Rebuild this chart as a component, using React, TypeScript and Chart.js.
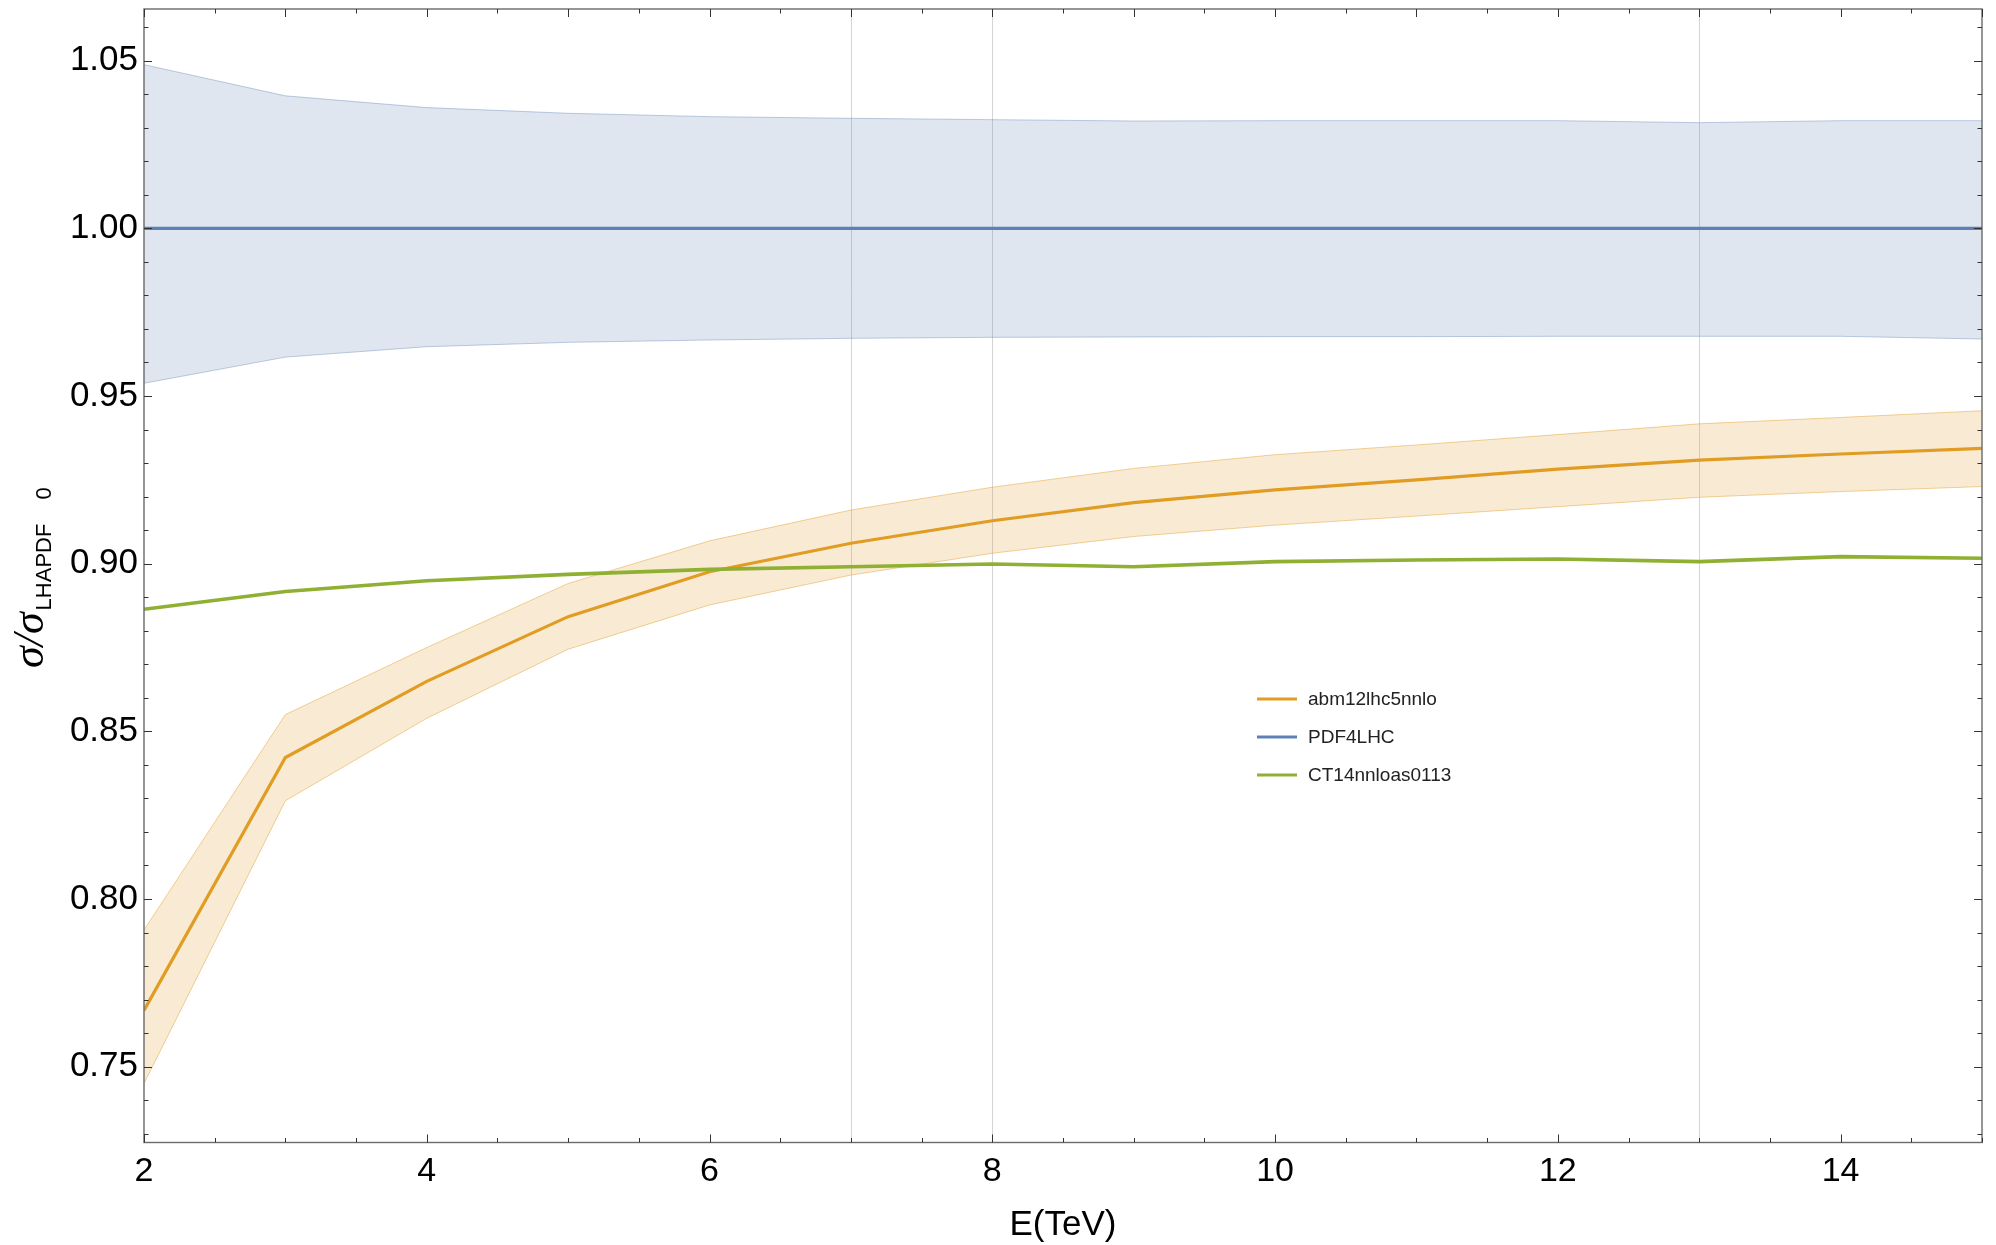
import React, { useEffect, useRef } from "react";
import { Chart, registerables } from "chart.js";

Chart.register(...registerables);

// ---------------- data ----------------
const energies = [2, 3, 4, 5, 6, 7, 8, 9, 10, 11, 12, 13, 14, 15];

const pdfCentral = [1.0, 1.0, 1.0, 1.0, 1.0, 1.0, 1.0, 1.0, 1.0, 1.0, 1.0, 1.0, 1.0, 1.0];
const pdfUpper = [1.0488, 1.0395, 1.036, 1.0343, 1.0333, 1.0328, 1.0324, 1.032, 1.0321, 1.0321, 1.0321, 1.0315, 1.0321, 1.0321];
const pdfLower = [0.9538, 0.9616, 0.9647, 0.966, 0.9667, 0.9672, 0.9675, 0.9676, 0.9677, 0.9677, 0.9678, 0.9678, 0.9678, 0.967];

const abmCentral = [0.7668, 0.8422, 0.8649, 0.8842, 0.8976, 0.9061, 0.9128, 0.9182, 0.922, 0.925, 0.9282, 0.9309, 0.9327, 0.9344];
const abmUpper = [0.7908, 0.855, 0.875, 0.8941, 0.9068, 0.916, 0.9228, 0.9284, 0.9325, 0.9354, 0.9385, 0.9417, 0.9436, 0.9456];
const abmLower = [0.745, 0.8293, 0.8539, 0.8745, 0.8877, 0.8966, 0.9031, 0.9081, 0.9115, 0.9142, 0.917, 0.9198, 0.9215, 0.923];

const ct14Central = [0.8864, 0.8917, 0.8949, 0.8968, 0.8983, 0.8991, 0.8999, 0.8991, 0.9006, 0.9011, 0.9014, 0.9006, 0.9021, 0.9016];

const seriesNames = ["abm12lhc5nnlo", "PDF4LHC", "CT14nnloas0113"];
const yTickValues = [0.75, 0.8, 0.85, 0.9, 0.95, 1.0, 1.05];
const xTickValues = [2, 4, 6, 8, 10, 12, 14];
const gridEnergies = [7, 8, 13];

const xMin = 2;
const xMax = 15;
const yMin = 0.7274;
const yMax = 1.0654;

// ---------------- styles ----------------
const ORANGE = "#e19c24";
const BLUE = "#5e81b5";
const GREEN = "#8fb032";
const FONT = "'Liberation Sans', Arial, Helvetica, sans-serif";

const pts = (arr: number[]) => energies.map((e, i) => ({ x: e, y: arr[i] }));

const zeroPadding = (scale: any) => {
  scale.paddingTop = 0;
  scale.paddingBottom = 0;
  scale.paddingLeft = 0;
  scale.paddingRight = 0;
};

const framePlugin = {
  id: "mmaFrame",
  beforeDatasetsDraw(chart: any) {
    const { ctx, chartArea } = chart;
    const xs = chart.scales.x;
    ctx.save();
    ctx.strokeStyle = "rgba(0,0,0,0.17)";
    ctx.lineWidth = 1;
    gridEnergies.forEach((g) => {
      const px = Math.round(xs.getPixelForValue(g)) + 0.5;
      ctx.beginPath();
      ctx.moveTo(px, chartArea.top);
      ctx.lineTo(px, chartArea.bottom);
      ctx.stroke();
    });
    ctx.restore();
  },
  afterDatasetsDraw(chart: any) {
    const { ctx, chartArea } = chart;
    const xs = chart.scales.x;
    const ys = chart.scales.y;
    const { left, right, top, bottom } = chartArea;
    ctx.save();
    // frame
    ctx.strokeStyle = "#6a6a6a";
    ctx.lineWidth = 1.4;
    ctx.strokeRect(left, top, right - left, bottom - top);
    // ticks
    ctx.strokeStyle = "#333";
    ctx.lineWidth = 1;
    const MAJ = 8;
    const MIN = 4.5;
    for (let k = 73; k <= 106; k++) {
      const v = k / 100;
      const py = Math.round(ys.getPixelForValue(v)) + 0.5;
      const len = k % 5 === 0 ? MAJ : MIN;
      ctx.beginPath();
      ctx.moveTo(left, py);
      ctx.lineTo(left + len, py);
      ctx.moveTo(right, py);
      ctx.lineTo(right - len, py);
      ctx.stroke();
    }
    for (let k = 4; k <= 30; k++) {
      const v = k / 2;
      const px = Math.round(xs.getPixelForValue(v)) + 0.5;
      const lenB = v % 2 === 0 ? MAJ : MIN;
      const lenT = Number.isInteger(v) ? MAJ : MIN;
      ctx.beginPath();
      ctx.moveTo(px, bottom);
      ctx.lineTo(px, bottom - lenB);
      ctx.moveTo(px, top);
      ctx.lineTo(px, top + lenT);
      ctx.stroke();
    }
    ctx.restore();
  },
  afterDraw(chart: any) {
    const { ctx, chartArea } = chart;
    ctx.save();
    ctx.fillStyle = "#000";
    // x title
    ctx.font = `35px ${FONT}`;
    ctx.textAlign = "center";
    ctx.textBaseline = "middle";
    ctx.fillText("E(TeV)", (chartArea.left + chartArea.right) / 2, 1225);

    // y title (rotated)
    ctx.translate(43, 668);
    ctx.rotate(-Math.PI / 2);
    ctx.textAlign = "left";
    ctx.textBaseline = "alphabetic";
    ctx.font = `italic 44px 'Liberation Serif', 'Times New Roman', serif`;
    const main = "σ/σ";
    ctx.fillText(main, 0, 0);
    const w = ctx.measureText(main).width;
    ctx.font = `22px ${FONT}`;
    const sub = "LHAPDF";
    ctx.fillText(sub, w + 2, 8);
    const ws = ctx.measureText(sub).width;
    ctx.fillText("0", w + 2 + ws + 24, 8);
    ctx.restore();

    // legend
    ctx.save();
    const colors = [ORANGE, BLUE, GREEN];
    ctx.font = `19px ${FONT}`;
    ctx.textBaseline = "middle";
    ctx.textAlign = "left";
    seriesNames.forEach((name, i) => {
      const y = 699 + i * 38;
      ctx.strokeStyle = colors[i];
      ctx.lineWidth = 3;
      ctx.beginPath();
      ctx.moveTo(1257, y);
      ctx.lineTo(1297, y);
      ctx.stroke();
      ctx.fillStyle = "#222";
      ctx.fillText(name, 1308, y + 1);
    });
    ctx.restore();
  },
};

export default function App() {
  const canvasRef = useRef<HTMLCanvasElement | null>(null);

  useEffect(() => {
    if (!canvasRef.current) return;
    const chart = new Chart(canvasRef.current, {
      type: "line",
      data: {
        datasets: [
          {
            label: "PDF4LHC lower",
            data: pts(pdfLower),
            borderColor: "rgba(94,129,181,0.4)",
            borderWidth: 1,
            pointRadius: 0,
            fill: false,
            order: 6,
          },
          {
            label: "PDF4LHC upper",
            data: pts(pdfUpper),
            borderColor: "rgba(94,129,181,0.4)",
            borderWidth: 1,
            backgroundColor: "rgba(94,129,181,0.2)",
            pointRadius: 0,
            fill: "-1",
            order: 5,
          },
          {
            label: "abm lower",
            data: pts(abmLower),
            borderColor: "rgba(225,156,36,0.45)",
            borderWidth: 1,
            pointRadius: 0,
            fill: false,
            order: 4,
          },
          {
            label: "abm upper",
            data: pts(abmUpper),
            borderColor: "rgba(225,156,36,0.45)",
            borderWidth: 1,
            backgroundColor: "rgba(225,156,36,0.2)",
            pointRadius: 0,
            fill: "-1",
            order: 3,
          },
          {
            label: seriesNames[0],
            data: pts(abmCentral),
            borderColor: ORANGE,
            borderWidth: 3.2,
            pointRadius: 0,
            fill: false,
            order: 2,
          },
          {
            label: seriesNames[1],
            data: pts(pdfCentral),
            borderColor: BLUE,
            borderWidth: 3.2,
            pointRadius: 0,
            fill: false,
            order: 1,
          },
          {
            label: seriesNames[2],
            data: pts(ct14Central),
            borderColor: GREEN,
            borderWidth: 3.6,
            pointRadius: 0,
            fill: false,
            order: 0,
          },
        ],
      },
      options: {
        responsive: false,
        animation: false,
        events: [],
        layout: { autoPadding: false, padding: { top: 9, right: 14, left: 0, bottom: 0 } },
        plugins: {
          legend: { display: false },
          tooltip: { enabled: false },
          title: { display: false },
        },
        scales: {
          x: {
            type: "linear",
            min: xMin,
            max: xMax,
            grid: { display: false, drawTicks: false },
            border: { display: false },
            afterBuildTicks: (scale: any) => {
              scale.ticks = xTickValues.map((v) => ({ value: v }));
            },
            afterFit: (scale: any) => {
              scale.height = 102.5;
              zeroPadding(scale);
            },
            ticks: {
              color: "#000",
              padding: 9,
              maxRotation: 0,
              autoSkip: false,
              font: { family: FONT, size: 34 },
              callback: (v: any) => String(v),
            },
          },
          y: {
            type: "linear",
            min: yMin,
            max: yMax,
            grid: { display: false, drawTicks: false },
            border: { display: false },
            afterBuildTicks: (scale: any) => {
              scale.ticks = yTickValues.map((v) => ({ value: v }));
            },
            afterFit: (scale: any) => {
              scale.width = 144;
              zeroPadding(scale);
            },
            ticks: {
              color: "#000",
              padding: 6,
              autoSkip: false,
              font: { family: FONT, size: 35 },
              callback: (v: any) => Number(v).toFixed(2),
            },
          },
        },
      },
      plugins: [framePlugin],
    });
    return () => chart.destroy();
  }, []);

  return (
    <div style={{ position: "absolute", left: 0, top: 0, width: 1996, height: 1245, background: "#fff" }}>
      <canvas ref={canvasRef} width={1996} height={1245} style={{ display: "block", width: 1996, height: 1245 }} />
    </div>
  );
}
